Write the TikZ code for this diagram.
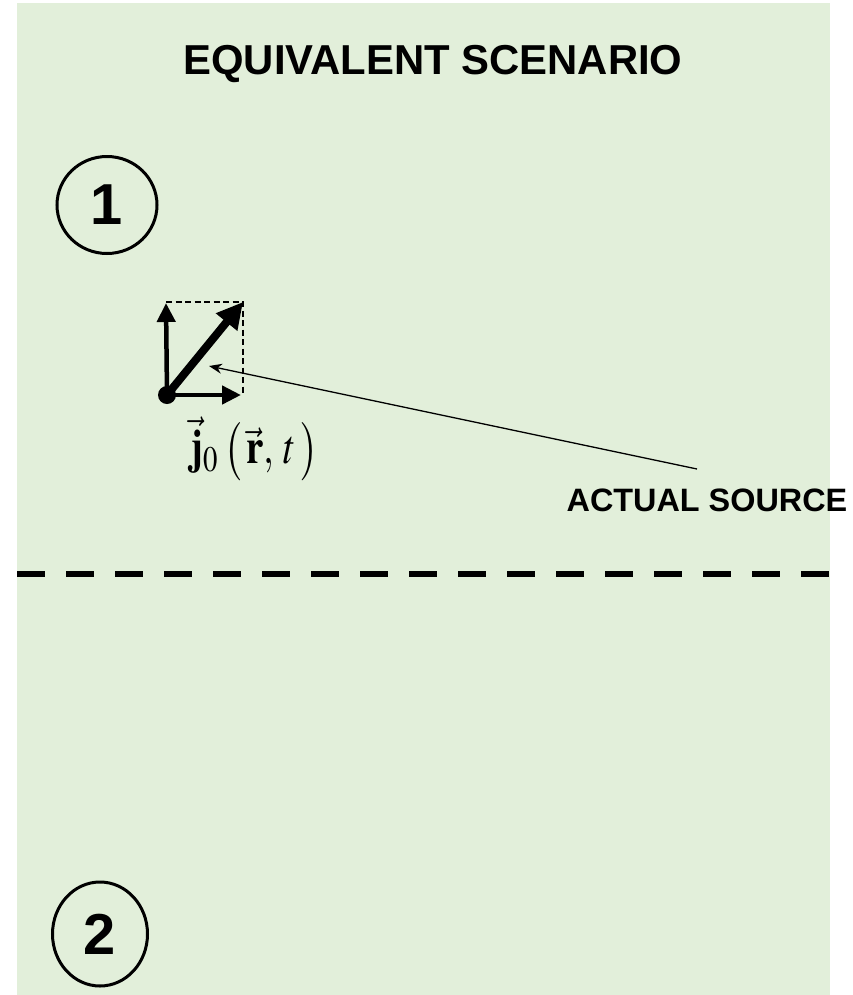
\documentclass[tikz,border=0pt]{standalone}
\usepackage{mathptmx}
\usepackage{fontspec}
\setmainfont{Liberation Sans}
\usetikzlibrary{arrows.meta}
\definecolor{bggreen}{RGB}{226,239,218}
\tikzset{
  numlabel/.style={font=\fontsize{58}{60}\selectfont\bfseries},
  vecarrow/.style={line width=4.5bp, -{Triangle[length=19bp,width=18bp]}},
  bigarrow/.style={line width=8bp, -{Triangle[length=26bp,width=26bp]}},
}
\begin{document}
\begin{tikzpicture}[x=1bp,y=-1bp]
\useasboundingbox (0,0) rectangle (853,995);
\fill[white] (0,0) rectangle (853,995);
\fill[bggreen] (17,3) rectangle (830,995);
% title
\node[font=\fontsize{42}{46}\selectfont\bfseries, inner sep=0pt] (title) at (433,64) {EQUIVALENT SCENARIO};
% regions
\node[numlabel, inner sep=0pt] (n1) at (107,205) {1};
\draw[line width=3bp] (n1) ellipse [x radius=50, y radius=48.5];
\node[numlabel, inner sep=0pt] (n2) at (100,934) {2};
\draw[line width=3bp] (n2) ellipse [x radius=47.5, y radius=52];
% interface
\coordinate (il) at (17,574);
\coordinate (ir) at (831,574);
\draw[line width=6.5bp, dash pattern=on 28bp off 21bp] (il) -- (ir);
% source
\node[circle, fill=black, minimum size=18bp, inner sep=0pt] (dot) at (167,395) {};
\coordinate (tipv) at (166,303);
\coordinate (tiph) at (241,395);
\coordinate (tipd) at (243,302);
\draw[line width=2.3bp, dash pattern=on 6bp off 3.5bp] (166,302) -- (243,302) -- (243,395);
\draw[vecarrow] (dot.center) -- (tipv);
\draw[vecarrow] (dot.center) -- (tiph);
\draw[bigarrow] (dot.center) -- (tipd);
\node[inner sep=0pt, font=\fontsize{39}{44}\selectfont] (jlab) at (254,449) {\scalebox{1}[1.25]{$\vec{\mathbf{j}}_{0}\mkern3mu\big(\mkern2mu\vec{\mathbf{r}},\mkern2mu t\mkern2mu\big)$}};
% actual source label
\node[inner sep=0pt, font=\fontsize{32.5}{36}\selectfont\bfseries] (act) at (707,500) {ACTUAL SOURCE};
\coordinate (ptr) at (697,469);
\coordinate (ptrtip) at (209,366);
\draw[line width=1.3bp, -{Stealth[length=13bp,width=10bp]}] (ptr) -- (ptrtip);
\end{tikzpicture}
\end{document}
